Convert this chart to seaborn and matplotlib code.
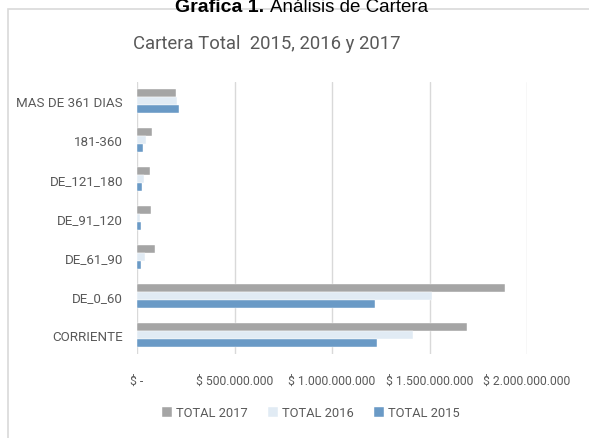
import matplotlib.pyplot as plt
import matplotlib.ticker as mticker
from matplotlib.patches import Rectangle
import seaborn as sns
import pandas as pd

plt.switch_backend('Agg')
sns.set_theme(style="white")
plt.rcParams['font.family'] = ['Roboto', 'DejaVu Sans']

# Datos
categorias = ['MAS DE 361 DIAS', '181-360', 'DE_121_180', 'DE_91_120',
              'DE_61_90', 'DE_0_60', 'CORRIENTE']
total_2017 = [198e6, 75e6, 67e6, 70e6, 94e6, 1887e6, 1691e6]
total_2016 = [203e6, 45e6, 34e6, 17e6, 40e6, 1515e6, 1413e6]
total_2015 = [215e6, 31e6, 24e6, 19e6, 19e6, 1223e6, 1231e6]
series = ['TOTAL 2017', 'TOTAL 2016', 'TOTAL 2015']
colores = ['#A5A5A5', '#DEEBF7', '#5B9BD5']

df = pd.DataFrame({
    'categoria': categorias * 3,
    'serie': [s for s in series for _ in categorias],
    'valor': total_2017 + total_2016 + total_2015,
})

fig = plt.figure(figsize=(5.89, 4.39), dpi=100)
ax = fig.add_axes([137 / 589, 1 - 355 / 439, 390 / 589, 272 / 439])

sns.barplot(data=df, y='categoria', x='valor', hue='serie', order=categorias,
            hue_order=series, palette=colores, width=0.62, orient='h',
            edgecolor='white', linewidth=0.3, ax=ax)

ax.set_xlim(0, 2e9)
ax.xaxis.set_major_locator(mticker.MultipleLocator(5e8))


def formato_pesos(x, pos):
    if x == 0:
        return '$ -'
    return '$ ' + f'{int(x):,}'.replace(',', '.')


ax.xaxis.set_major_formatter(mticker.FuncFormatter(formato_pesos))
ax.grid(axis='x', color='#D9D9D9', linewidth=1)
ax.set_axisbelow(True)
for s in ax.spines.values():
    s.set_visible(False)
ax.set_xlabel('')
ax.set_ylabel('')
ax.tick_params(axis='x', length=0, pad=14, labelsize=8.7, labelcolor='#595959')
ax.tick_params(axis='y', length=0, pad=10, labelsize=9.6, labelcolor='#595959')
ax.legend_.remove()

# Leyenda inferior
handles, labels = ax.get_legend_handles_labels()
fig.legend(handles, labels, loc='center', bbox_to_anchor=(311 / 589, 1 - 414 / 439),
           ncol=3, frameon=False, fontsize=9.3, labelcolor='#595959',
           handlelength=0.75, handleheight=0.75, handletextpad=0.3, columnspacing=1.6)

# Marco del gráfico
fig.patches.append(Rectangle((8 / 589, -0.05), 1.2, 1 - 10 / 439 + 0.05,
                             transform=fig.transFigure, fill=False,
                             edgecolor='#D9D9D9', linewidth=1.2))

# Títulos
fig.text(267 / 589, 1 - 44 / 439, 'Cartera Total  2015, 2016 y 2017', ha='center',
         va='center', fontsize=13.3, color='#595959')
fig.text(264 / 589, 1 - 12 / 439, 'Grafica 1.', ha='right', va='baseline',
         fontsize=14, fontweight='bold', color='black', family='Liberation Sans')
fig.text(270 / 589, 1 - 12 / 439, 'Análisis de Cartera', ha='left', va='baseline',
         fontsize=13.5, color='black', family='Liberation Sans')

fig.savefig('out.png', dpi=100)
plt.close(fig)
